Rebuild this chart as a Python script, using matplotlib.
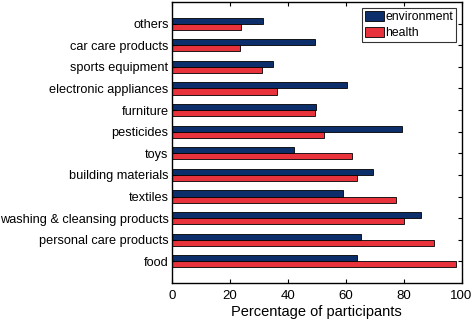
import numpy as np
import matplotlib.pyplot as plt

plt.rcParams['font.family'] = ['Liberation Sans', 'DejaVu Sans']

# categories from bottom to top
categories = ['food', 'personal care products', 'washing & cleansing products',
              'textiles', 'building materials', 'toys', 'pesticides', 'furniture',
              'electronic appliances', 'sports equipment', 'car care products', 'others']
environment = [64.0, 65.2, 86.0, 59.1, 69.3, 42.1, 79.4, 49.7, 60.4, 34.8, 49.3, 31.5]
health = [98.2, 90.6, 80.1, 77.3, 64.0, 62.3, 52.5, 49.5, 36.2, 31.1, 23.6, 23.7]

fig = plt.figure(figsize=(4.73, 3.23), dpi=100)
ax = fig.add_axes([0.3636, 0.1238, 0.6121, 0.87])

y = np.arange(len(categories))
h = 0.28
ax.barh(y + h / 2, environment, height=h, color='#0c2f6b', edgecolor='black',
        linewidth=0.6, label='environment')
ax.barh(y - h / 2, health, height=h, color='#e8323c', edgecolor='black',
        linewidth=0.6, label='health')

ax.set_xlim(0, 100)
ax.set_ylim(-1, 12)
ax.set_xticks([0, 20, 40, 60, 80, 100])
ax.set_yticks(y)
ax.set_yticklabels(categories, fontsize=9.2)
ax.tick_params(axis='x', labelsize=9.5, pad=5)
ax.tick_params(axis='y', pad=2.5)
ax.tick_params(direction='in', top=True, right=True, length=3, width=0.8)
ax.set_xlabel('Percentage of participants', fontsize=10.5, labelpad=2)
for s in ax.spines.values():
    s.set_linewidth(1.0)

leg = ax.legend(loc='upper right', fontsize=8.8, frameon=True, fancybox=False,
                edgecolor='black', handlelength=1.55, handleheight=0.95,
                handletextpad=0.1, borderpad=0.25, labelspacing=0.3,
                borderaxespad=0.45)
leg.get_frame().set_linewidth(0.8)

fig.savefig('out.png', dpi=100)
